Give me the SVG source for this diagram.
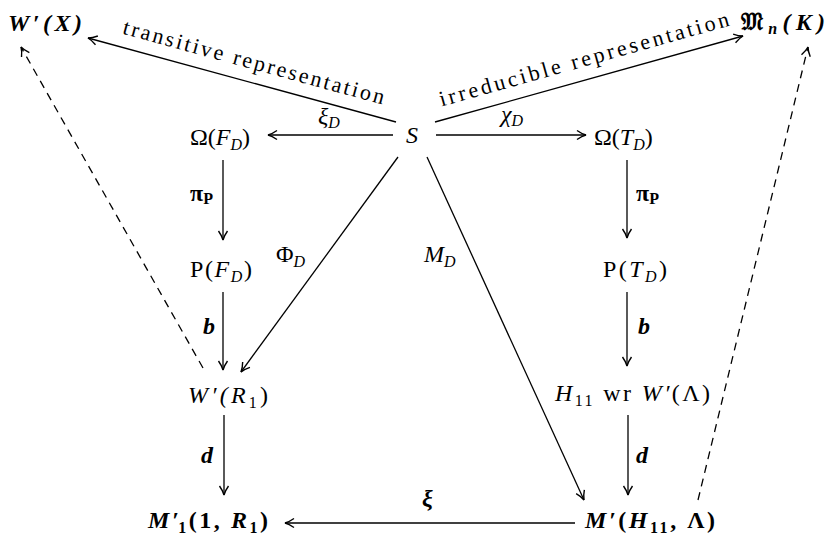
<svg xmlns="http://www.w3.org/2000/svg" width="830" height="540" viewBox="0 0 830 540">
<style>
text{font-family:"Liberation Serif","DejaVu Serif",serif;fill:#000;font-size:24px}
.i{font-style:italic}
.b{font-weight:bold}
.bi{font-style:italic;font-weight:bold}
.lbl{font-size:22px}
.sub{font-size:16px}
line{stroke:#000;stroke-width:1.3;fill:none}
.dash{stroke-dasharray:8,6}
</style>
<defs>
<marker id="ah" markerWidth="14" markerHeight="14" viewBox="-12 -7 14 14" refX="0" refY="0" orient="auto" markerUnits="userSpaceOnUse">
<path d="M-9,-4.5 Q-4,-1 0,0 Q-4,1 -9,4.5" fill="none" stroke="#000" stroke-width="1.4"/>
</marker>
</defs>
<g id="connectors">
<line x1="396" y1="122" x2="88" y2="38" marker-end="url(#ah)"/>
<line x1="435" y1="122" x2="743" y2="36" marker-end="url(#ah)"/>
<line x1="393" y1="135" x2="268" y2="135" marker-end="url(#ah)"/>
<line x1="436" y1="135" x2="586" y2="135" marker-end="url(#ah)"/>
<line x1="223" y1="160" x2="223" y2="240" marker-end="url(#ah)"/>
<line x1="627" y1="160" x2="627" y2="238" marker-end="url(#ah)"/>
<line x1="223" y1="292" x2="223" y2="370" marker-end="url(#ah)"/>
<line x1="627" y1="292" x2="627" y2="366" marker-end="url(#ah)"/>
<line x1="224" y1="415" x2="224" y2="495" marker-end="url(#ah)"/>
<line x1="628" y1="415" x2="628" y2="495" marker-end="url(#ah)"/>
<line x1="575" y1="523" x2="285" y2="523" marker-end="url(#ah)"/>
<line x1="398" y1="157" x2="241" y2="372" marker-end="url(#ah)"/>
<line x1="427" y1="157" x2="584" y2="500" marker-end="url(#ah)"/>
<line class="dash" x1="203" y1="368" x2="21" y2="47" marker-end="url(#ah)"/>
<line class="dash" x1="698" y1="500" x2="808" y2="47" marker-end="url(#ah)"/>
<text class="lbl" x="252" y="69" text-anchor="middle" transform="rotate(15.25 252 69)" textLength="270" lengthAdjust="spacing">transitive representation</text>
<text class="lbl" x="586" y="66" text-anchor="middle" transform="rotate(-15.7 586 66)" textLength="300" lengthAdjust="spacing">irreducible representation</text>
<text x="318" y="124" class="i">ξ<tspan class="sub" dy="4">D</tspan></text>
<text x="501" y="122" class="i">χ<tspan class="sub" dy="4">D</tspan></text>
<text x="190" y="201" class="b">π<tspan class="sub" dy="3">P</tspan></text>
<text x="636" y="201" class="b">π<tspan class="sub" dy="3">P</tspan></text>
<text x="203" y="334" class="bi">b</text>
<text x="638" y="334" class="bi">b</text>
<text x="201" y="463" class="bi">d</text>
<text x="636" y="463" class="bi">d</text>
<text x="422" y="506" class="bi">ξ</text>
<text x="276" y="262">Φ<tspan class="sub i" dy="5">D</tspan></text>
<text x="424" y="262" class="i">M<tspan class="sub" dy="5">D</tspan></text>
</g>
<g id="WX"><text x="8" y="31" class="bi" font-size="26" textLength="74" lengthAdjust="spacing">W′(X)</text></g>
<g id="Mn"><text x="741" y="30" class="b" font-size="26" textLength="84" lengthAdjust="spacing">𝔐<tspan class="sub i" dy="4">n</tspan><tspan dy="-4" class="i">(K)</tspan></text></g>
<g id="S"><text x="406" y="143" class="i" font-size="30">S</text></g>
<g id="OmegaF"><text x="190" y="145">Ω(<tspan class="i">F</tspan><tspan class="sub i" dy="5">D</tspan><tspan dy="-5">)</tspan></text></g>
<g id="OmegaT"><text x="594" y="145">Ω(<tspan class="i">T</tspan><tspan class="sub i" dy="5">D</tspan><tspan dy="-5">)</tspan></text></g>
<g id="PF"><text x="190" y="277" textLength="62" lengthAdjust="spacing">P(<tspan class="i">F</tspan><tspan class="sub i" dy="5">D</tspan><tspan dy="-5">)</tspan></text></g>
<g id="PT"><text x="603" y="277" textLength="64" lengthAdjust="spacing">P(<tspan class="i">T</tspan><tspan class="sub i" dy="5">D</tspan><tspan dy="-5">)</tspan></text></g>
<g id="WR1"><text x="188" y="403" class="i" textLength="80" lengthAdjust="spacing">W′(R<tspan class="sub" dy="5" font-style="normal">1</tspan><tspan dy="-5" font-style="normal">)</tspan></text></g>
<g id="H11"><text x="555" y="401" textLength="155" lengthAdjust="spacing"><tspan class="i">H</tspan><tspan class="sub" dy="5">11</tspan><tspan dy="-5"> wr </tspan><tspan class="i">W′</tspan>(Λ)</text></g>
<g id="M1"><text x="148" y="528" class="b" textLength="120" lengthAdjust="spacing"><tspan class="i">M′</tspan><tspan class="sub" dx="-3" dy="5">1</tspan><tspan dy="-5">(1, </tspan><tspan class="i">R</tspan><tspan class="sub" dy="5">1</tspan><tspan dy="-5">)</tspan></text></g>
<g id="MH"><text x="585" y="528" class="b" textLength="130" lengthAdjust="spacing"><tspan class="i">M′</tspan>(<tspan class="i">H</tspan><tspan class="sub" dy="5">11</tspan><tspan dy="-5">, Λ)</tspan></text></g>
</svg>
